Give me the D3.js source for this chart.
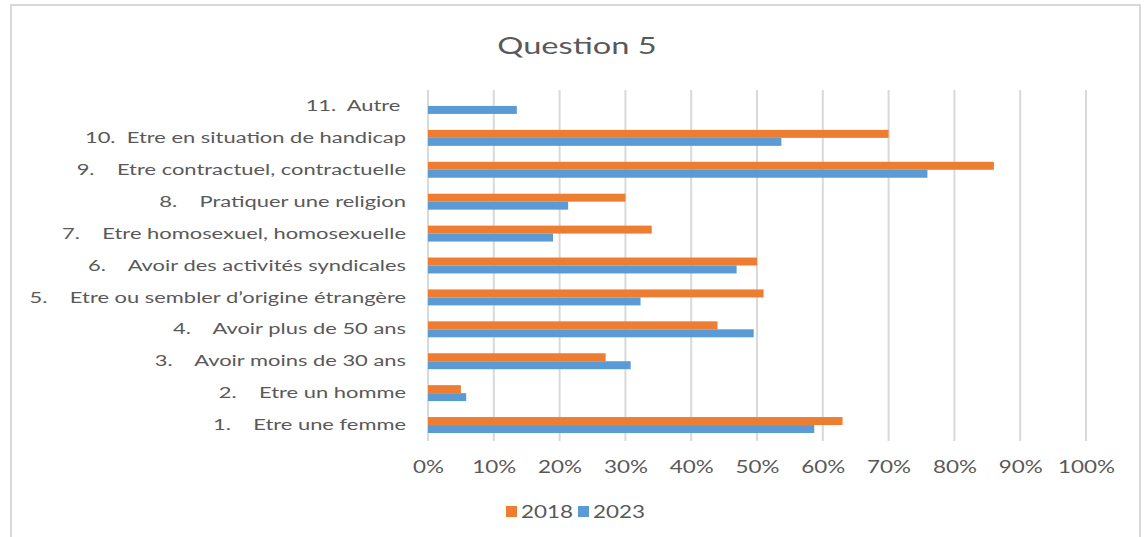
<!DOCTYPE html>
<html>
<head>
<meta charset="utf-8">
<script src="https://cdn.jsdelivr.net/npm/d3@7"></script>
<style>
  body { margin: 0; background: #fff; }
  text { font-family: Lato, "Open Sans", sans-serif; fill: #595959; }
</style>
</head>
<body>
<div id="graph"></div>
<script>
// categories, bottom to top as in the chart
const categories = [
  "1.    Etre une femme",
  "2.    Etre un homme",
  "3.    Avoir moins de 30 ans",
  "4.    Avoir plus de 50 ans",
  "5.    Etre ou sembler d\u2019origine étrangère",
  "6.    Avoir des activités syndicales",
  "7.    Etre homosexuel, homosexuelle",
  "8.    Pratiquer une religion",
  "9.    Etre contractuel, contractuelle",
  "10.  Etre en situation de handicap",
  "11.  Autre "
];
const series = ["2018", "2023"];
const values2018 = [0.63, 0.05, 0.27, 0.44, 0.51, 0.50, 0.34, 0.30, 0.86, 0.70, null];
const values2023 = [0.587, 0.058, 0.308, 0.495, 0.323, 0.469, 0.19, 0.213, 0.759, 0.537, 0.135];
const ticks = [0, 0.1, 0.2, 0.3, 0.4, 0.5, 0.6, 0.7, 0.8, 0.9, 1];
const colors = { "2018": "#ED7D31", "2023": "#5B9BD5" };

const width = 1144, height = 537;
const sx = 1.32; // the picture's text is wide, stretch it horizontally
const sxLabel = 1.37;

const svg = d3.select('#graph').html("")
  .append('svg')
  .attr('width', width)
  .attr('height', height);

// chart border
svg.append('rect')
  .attr('x', 11).attr('y', 5)
  .attr('width', 1129).attr('height', 545)
  .attr('fill', 'none')
  .attr('stroke', '#D9D9D9')
  .attr('stroke-width', 2);

svg.append('text')
  .attr('transform', 'translate(577,54) scale(1.36,1)')
  .attr('text-anchor', 'middle')
  .attr('font-size', 24)
  .text('Question 5');

const x = d3.scaleLinear().domain([0, 1]).range([428, 1086]);
const y = d3.scaleBand()
  .domain(categories.slice().reverse())
  .range([90, 441])
  .paddingInner(0.5)
  .paddingOuter(0.25);
const ySub = d3.scaleBand().domain(series).range([0, y.bandwidth()]);

// gridlines
svg.append('g')
  .selectAll('line')
  .data(ticks)
  .enter().append('line')
  .attr('x1', d => x(d)).attr('x2', d => x(d))
  .attr('y1', 90).attr('y2', 441)
  .attr('stroke', '#D9D9D9')
  .attr('stroke-width', 2);

// x axis labels
const xAxis = svg.append('g')
  .attr('transform', 'translate(0,461)')
  .call(d3.axisBottom(x).tickValues(ticks).tickFormat(d3.format('.0%')).tickSize(0).tickPadding(0));
xAxis.select('.domain').remove();
xAxis.selectAll('text')
  .attr('font-size', 17)
  .attr('dy', '0.71em')
  .attr('transform', `scale(${sx},1)`)
  .style('font-family', 'Lato, sans-serif')
  .attr('fill', '#595959');

// category labels
const yAxis = svg.append('g')
  .attr('transform', 'translate(428,0)')
  .call(d3.axisLeft(y).tickSize(0).tickPadding(22 / sxLabel));
yAxis.select('.domain').remove();
yAxis.selectAll('text')
  .attr('font-size', 16)
  .attr('transform', `scale(${sxLabel},1)`)
  .style('white-space', 'pre')
  .style('font-family', 'Lato, sans-serif')
  .attr('fill', '#595959');

// bars
const rows = categories.map((c, i) => ({ c, v: { "2018": values2018[i], "2023": values2023[i] } }));
series.forEach(s => {
  svg.append('g')
    .selectAll('rect')
    .data(rows.filter(r => r.v[s] != null))
    .enter().append('rect')
    .attr('x', x(0))
    .attr('y', r => y(r.c) + ySub(s))
    .attr('width', r => x(r.v[s]) - x(0))
    .attr('height', ySub.bandwidth())
    .attr('fill', colors[s]);
});

// legend
const legend = svg.append('g').attr('transform', 'translate(506,512)');
const items = legend.selectAll('g')
  .data(series)
  .enter().append('g')
  .attr('transform', (d, i) => `translate(${i * 72},0)`);
items.append('rect')
  .attr('x', 0).attr('y', -6)
  .attr('width', 11).attr('height', 11)
  .attr('fill', d => colors[d]);
items.append('text')
  .attr('transform', `translate(15,0) scale(${sx},1)`)
  .attr('dy', '0.35em')
  .attr('font-size', 17)
  .text(d => d);
</script>
</body>
</html>
